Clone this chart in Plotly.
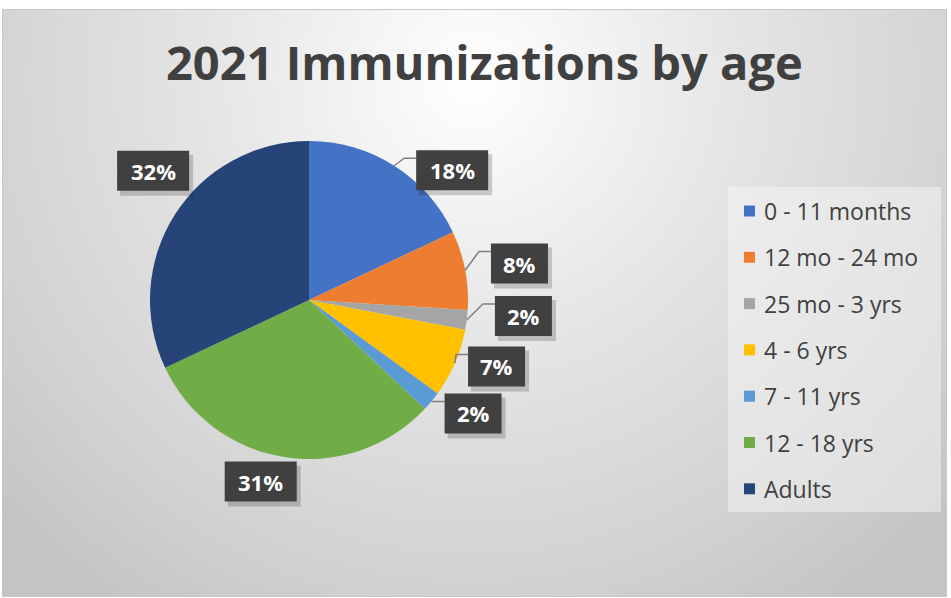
import math
import base64
import plotly.graph_objects as go

# ---------------- data ----------------
CATEGORIES = ["0 - 11 months", "12 mo - 24 mo", "25 mo - 3 yrs", "4 - 6 yrs",
              "7 - 11 yrs", "12 - 18 yrs", "Adults"]
VALUES = [18, 8, 2, 7, 2, 31, 32]
TITLE = "2021 Immunizations by age"

# ---------------- styles ----------------
COLORS = ["#4472C4", "#ED7D31", "#A5A5A5", "#FFC000", "#5B9BD5", "#70AD47", "#264478"]
W, H = 951, 598
CX, CY, R = 309, 300, 159          # pie centre / radius in pixels
LABEL_DIST = 200                    # radial distance of data labels
LABEL_NUDGE = [(36, 39), (14, 1), (16, -9), (4, -13), (10, -14), (-17, -16), (13, -22)]
SHOW_LEADER = [True, True, True, True, True, False, False]
FONT = "Open Sans"
TEXT_COL = "#404040"


def px(x):
    return x / W


def py(y):
    return 1 - y / H


fig = go.Figure()
fig.add_trace(go.Pie(
    labels=CATEGORIES, values=VALUES, sort=False, direction="clockwise", rotation=0,
    marker=dict(colors=COLORS, line=dict(width=0)),
    textinfo="none", hoverinfo="label+percent", showlegend=False,
    domain=dict(x=[px(CX - R), px(CX + R)], y=[py(CY + R), py(CY - R)]),
))

shapes = []
annotations = []

# ---------------- data labels ----------------
total = sum(VALUES)
cum = 0
for i, v in enumerate(VALUES):
    mid = (cum + v / 2) / total * 2 * math.pi
    cum += v
    dx, dy = math.sin(mid), -math.cos(mid)
    bx = CX + LABEL_DIST * dx + LABEL_NUDGE[i][0]
    by = CY + LABEL_DIST * dy + LABEL_NUDGE[i][1]
    text = f"{round(100 * v / total)}%"
    bw = 27 + 15 * len(text)
    bh = 40
    x0, x1, y0, y1 = bx - bw / 2, bx + bw / 2, by - bh / 2, by + bh / 2
    if SHOW_LEADER[i]:
        ex, ey = CX + R * dx, CY + R * dy
        ly = y0 + 8
        path = f"M {px(ex)} {py(ey)} L {px(x0 - 12)} {py(ly)} L {px(x0)} {py(ly)}"
        shapes.append(dict(type="path", xref="paper", yref="paper", path=path,
                           line=dict(color="#7f7f7f", width=1.5)))
    shapes.append(dict(type="rect", xref="paper", yref="paper",
                       x0=px(x0 + 3), x1=px(x1 + 4), y0=py(y0 + 4), y1=py(y1 + 5),
                       fillcolor="rgba(0,0,0,0.18)", line=dict(width=0)))
    shapes.append(dict(type="rect", xref="paper", yref="paper",
                       x0=px(x0), x1=px(x1), y0=py(y0), y1=py(y1),
                       fillcolor="#404040", line=dict(width=0)))
    annotations.append(dict(xref="paper", yref="paper", x=px(bx), y=py(by), text=text,
                            showarrow=False, xanchor="center", yanchor="middle",
                            font=dict(family=FONT, size=22, color="white", weight="bold")))

# ---------------- legend ----------------
LEG_X0, LEG_X1, LEG_Y0, LEG_Y1 = 728, 941, 187, 512
LEG_FIRST, LEG_STEP = 211, 46.3
shapes.append(dict(type="rect", xref="paper", yref="paper", layer="below",
                   x0=px(LEG_X0), x1=px(LEG_X1), y0=py(LEG_Y0), y1=py(LEG_Y1),
                   fillcolor="rgba(245,245,245,0.5)", line=dict(width=0)))
for i, (cat, col) in enumerate(zip(CATEGORIES, COLORS)):
    yy = LEG_FIRST + i * LEG_STEP
    shapes.append(dict(type="rect", xref="paper", yref="paper",
                       x0=px(744), x1=px(755), y0=py(yy - 5.5), y1=py(yy + 5.5),
                       fillcolor=col, line=dict(width=0)))
    annotations.append(dict(xref="paper", yref="paper", x=px(762), y=py(yy), text=cat,
                            showarrow=False, xanchor="left", yanchor="middle",
                            font=dict(family=FONT, size=23, color=TEXT_COL)))

# ---------------- title ----------------
annotations.append(dict(xref="paper", yref="paper", x=px(484), y=py(62), text=TITLE,
                        showarrow=False, xanchor="center", yanchor="middle",
                        font=dict(family=FONT, size=47, color=TEXT_COL, weight="bold")))

# ---------------- background gradient ----------------
svg = f"""<svg xmlns='http://www.w3.org/2000/svg' width='945' height='588' viewBox='0 0 945 588' preserveAspectRatio='none'>
<defs><radialGradient id='g' gradientUnits='userSpaceOnUse' cx='470' cy='70' r='640'>
<stop offset='0' stop-color='#ffffff'/>
<stop offset='0.4' stop-color='#e6e6e6'/>
<stop offset='0.8' stop-color='#d1d1d1'/>
<stop offset='1' stop-color='#c4c4c4'/>
</radialGradient></defs>
<rect x='0' y='0' width='945' height='588' fill='url(#g)'/>
<rect x='0.5' y='0.5' width='944' height='587' fill='none' stroke='#c8c8c8' stroke-width='1'/>
</svg>"""
src = "data:image/svg+xml;base64," + base64.b64encode(svg.encode()).decode()

fig.update_layout(
    width=W, height=H, margin=dict(l=0, r=0, t=0, b=0),
    paper_bgcolor="white", plot_bgcolor="rgba(0,0,0,0)",
    showlegend=False,
    shapes=shapes, annotations=annotations,
    images=[dict(source=src, xref="paper", yref="paper", x=px(2), y=py(9),
                 sizex=945 / W, sizey=588 / H, xanchor="left", yanchor="top",
                 sizing="stretch", layer="below")],
)

fig.write_html("out.html", config={"displayModeBar": False},
               post_script="document.body.style.margin='0';")
